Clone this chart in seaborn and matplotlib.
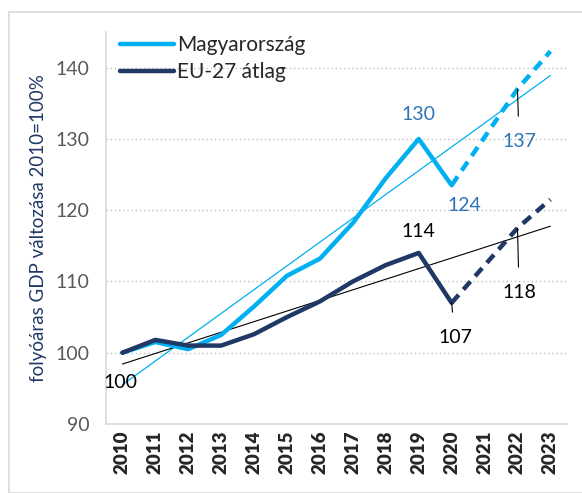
import seaborn as sns
import matplotlib.pyplot as plt
from matplotlib.patches import Rectangle
import numpy as np

# Adatok (2010=100%)
evek = np.arange(2010, 2024)
magyar = [100, 101.5, 100.5, 102.5, 106.5, 110.8, 113.2, 118.2, 124.5, 130, 123.5, 130.25, 137, 142.3]
eu27 = [100, 101.8, 101, 101, 102.6, 105, 107.2, 110, 112.3, 114, 107, 112.25, 117.5, 121.5]
tenyleges = 11  # 2010-2020: tényadat, utána becslés (szaggatott)

kek = "#00B0F0"
sotetkek = "#1F3864"
felirat_kek = "#2E75B6"

sns.set_style("white")
plt.rcParams["font.family"] = ["Lato", "DejaVu Sans"]

fig = plt.figure(figsize=(5.82, 4.93), dpi=100)
ax = fig.add_axes([0.182, 0.140, 0.792, 0.795])
fig.patches.append(Rectangle((0.015, 0.0), 0.99, 0.976, transform=fig.transFigure,
                             fill=False, edgecolor="#D9D9D9", linewidth=1.2))

# Lineáris trendvonalak
for y, c, lw in [(magyar, kek, 0.9), (eu27, "black", 0.8)]:
    m, b = np.polyfit(evek - 2010, y, 1)
    ax.plot(evek, m * (evek - 2010) + b, color=c, linewidth=lw, zorder=2)

sns.lineplot(x=evek[:tenyleges], y=magyar[:tenyleges], color=kek, linewidth=3.2,
             label="Magyarország", ax=ax, zorder=3)
sns.lineplot(x=evek[tenyleges - 1:], y=magyar[tenyleges - 1:], color=kek, linewidth=3.2,
             linestyle=(0, (2.4, 1.6)), ax=ax, zorder=3)
sns.lineplot(x=evek[:tenyleges], y=eu27[:tenyleges], color=sotetkek, linewidth=3.2,
             label="EU-27 átlag", ax=ax, zorder=3)
sns.lineplot(x=evek[tenyleges - 1:], y=eu27[tenyleges - 1:], color=sotetkek, linewidth=3.2,
             linestyle=(0, (2.4, 1.6)), ax=ax, zorder=3)

ax.set_xlim(2009.5, 2023.5)
ax.set_ylim(90, 145)
ax.set_yticks([90, 100, 110, 120, 130, 140])
ax.set_xticks(evek)
ax.set_xticklabels([str(e) for e in evek], rotation=90, fontweight="heavy", fontsize=13.5)
ax.tick_params(axis="y", labelsize=14, labelcolor="#595959", length=0, pad=12)
ax.tick_params(axis="x", length=0, pad=5)
for t in [100, 110, 120, 130, 140]:
    ax.axhline(t, color="#BFBFBF", linewidth=1, linestyle=(0, (1, 2)), zorder=1)
for s in ["top", "right"]:
    ax.spines[s].set_visible(False)
for s in ["left", "bottom"]:
    ax.spines[s].set_color("#D9D9D9")
    ax.spines[s].set_linewidth(1.2)

ax.set_ylabel("folyóáras GDP változása 2010=100%", fontsize=13.5, color="#203864", labelpad=6)
ax.set_xlabel("")

# Feliratok
fs = 14
ax.text(2009.95, 95.8, "100", fontsize=fs, ha="center", va="center", color="black")
ax.text(2019, 133.4, "130", fontsize=fs, ha="center", va="center", color=felirat_kek)
ax.text(2020.4, 120.6, "124", fontsize=fs, ha="center", va="center", color=felirat_kek)
ax.annotate("137", xy=(2022, magyar[12]), xytext=(2022.05, 129.6),
            fontsize=fs, ha="center", va="center", color=felirat_kek,
            arrowprops=dict(arrowstyle="-", color="black", linewidth=0.8, shrinkA=10, shrinkB=0))
ax.text(2019, 117.0, "114", fontsize=fs, ha="center", va="center", color="black")
ax.annotate("107", xy=(2020, eu27[10]), xytext=(2020.1, 102.1),
            fontsize=fs, ha="center", va="center", color="black",
            arrowprops=dict(arrowstyle="-", color="black", linewidth=0.8, shrinkA=10, shrinkB=0))
ax.annotate("118", xy=(2022, eu27[12]), xytext=(2022.05, 108.4),
            fontsize=fs, ha="center", va="center", color="black",
            arrowprops=dict(arrowstyle="-", color="black", linewidth=0.8, shrinkA=10, shrinkB=0))

ax.legend(loc="upper left", bbox_to_anchor=(-0.01, 1.04), frameon=False, fontsize=15,
          handlelength=2.6, handletextpad=0.15, labelspacing=0.35)

plt.savefig("out.png", dpi=100)
